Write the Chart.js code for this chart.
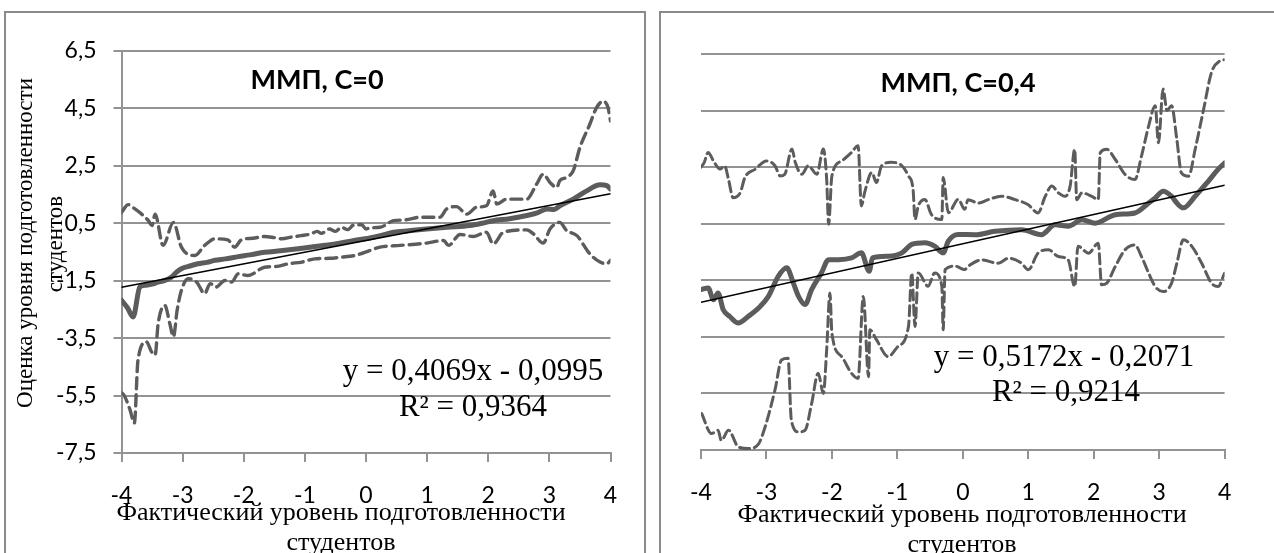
<!DOCTYPE html>
<html>
<head>
<meta charset="utf-8">
<script src="https://cdn.jsdelivr.net/npm/chart.js@4.4.1/dist/chart.umd.min.js"></script>
<style>
  html, body { margin: 0; padding: 0; background: #fff; overflow: hidden; }
  body { width: 1274px; height: 553px; position: relative; }
  .frame { position: absolute; border: 2px solid #8a8a8a; box-sizing: border-box; }
  #frameLeft { left: 4px; top: 11px; width: 642px; height: 600px; }
  #frameRight { left: 659px; top: 11px; width: 700px; height: 600px; }
  canvas { position: absolute; top: 0; }
  #leftChart { left: 0; }
  #rightChart { left: 652px; }
</style>
</head>
<body>
<div class="frame" id="frameLeft"></div>
<div class="frame" id="frameRight"></div>
<canvas id="leftChart" width="652" height="600"></canvas>
<canvas id="rightChart" width="622" height="600"></canvas>
<script>
// axis ticks
const xTicks = [-4, -3, -2, -1, 0, 1, 2, 3, 4];
const xTickLabels = ["-4", "-3", "-2", "-1", "0", "1", "2", "3", "4"];
const yTicks = [-7.5, -5.5, -3.5, -1.5, 0.5, 2.5, 4.5, 6.5];
const yTickLabels = ["-7,5", "-5,5", "-3,5", "-1,5", "0,5", "2,5", "4,5", "6,5"];

// left panel: ММП, C=0  ([x, y] pairs)
const leftMean = [[-4, -2.18], [-3.9, -2.45], [-3.81, -2.76], [-3.7, -1.72], [-3.6, -1.66], [-3.5, -1.62],
  [-3.4, -1.55], [-3.3, -1.5], [-3.18, -1.37], [-3.1, -1.2], [-3.02, -1.08], [-2.9, -1.0], [-2.75, -0.91],
  [-2.6, -0.86], [-2.47, -0.79], [-2.3, -0.74], [-2.09, -0.66], [-1.9, -0.6], [-1.66, -0.51],
  [-1.4, -0.46], [-1.11, -0.39], [-0.8, -0.3], [-0.56, -0.24], [-0.25, -0.12], [0.06, -0.01],
  [0.25, 0.08], [0.45, 0.19], [0.7, 0.24], [0.99, 0.30], [1.32, 0.36], [1.7, 0.42], [1.9, 0.5],
  [2.08, 0.59], [2.35, 0.66], [2.63, 0.77], [2.8, 0.86], [2.96, 1.0], [3.08, 0.98], [3.17, 1.11],
  [3.39, 1.34], [3.61, 1.63], [3.83, 1.84], [3.94, 1.81], [4, 1.69]];
const leftUpper = [[-4, 0.88], [-3.89, 1.15], [-3.78, 1.0], [-3.67, 0.82], [-3.56, 0.59], [-3.5, 0.42],
  [-3.45, 0.82], [-3.32, -0.27], [-3.15, 0.53], [-3.02, -0.33], [-2.8, -0.62], [-2.64, -0.27],
  [-2.47, -0.04], [-2.26, -0.08], [-2.15, -0.33], [-2.04, -0.08], [-1.85, -0.02], [-1.66, 0.04],
  [-1.5, 0.0], [-1.38, -0.04], [-1.2, 0.03], [-1.06, 0.07], [-0.9, 0.13], [-0.8, 0.22], [-0.73, 0.15],
  [-0.6, 0.3], [-0.5, 0.22], [-0.4, 0.36], [-0.3, 0.28], [-0.2, 0.44], [-0.07, 0.45], [0.0, 0.3],
  [0.06, 0.34], [0.23, 0.36], [0.45, 0.59], [0.65, 0.62], [0.88, 0.71], [1.21, 0.71], [1.32, 1.0],
  [1.48, 1.08], [1.65, 0.82], [1.81, 1.06], [1.97, 1.11], [2.08, 1.63], [2.14, 1.17], [2.3, 1.34],
  [2.63, 1.34], [2.79, 1.86], [2.9, 2.21], [3.01, 1.92], [3.12, 1.75], [3.17, 1.98], [3.28, 2.1],
  [3.39, 2.33], [3.5, 3.14], [3.66, 3.94], [3.77, 4.52], [3.88, 4.75], [3.96, 4.52], [4, 4.06]];
const leftLower = [[-4, -5.4], [-3.96, -5.48], [-3.86, -6.0], [-3.79, -6.46], [-3.73, -4.26], [-3.59, -3.63],
  [-3.51, -3.97], [-3.45, -4.09], [-3.4, -2.99], [-3.29, -2.36], [-3.21, -2.99], [-3.15, -3.45],
  [-3.09, -2.53], [-3.02, -1.84], [-2.91, -1.43], [-2.77, -1.55], [-2.64, -1.95], [-2.55, -1.6],
  [-2.45, -1.72], [-2.31, -1.49], [-2.2, -1.55], [-2.09, -1.26], [-1.93, -1.32], [-1.66, -1.03],
  [-1.45, -1.0], [-1.27, -0.91], [-1.05, -0.85], [-0.84, -0.74], [-0.6, -0.72], [-0.4, -0.68],
  [-0.18, -0.62], [0.06, -0.45], [0.23, -0.33], [0.56, -0.27], [0.99, -0.19], [1.27, -0.1],
  [1.35, -0.27], [1.54, 0.11], [1.76, 0.04], [1.97, 0.19], [2.08, -0.22], [2.25, 0.19], [2.63, 0.27],
  [2.74, 0.13], [2.9, -0.19], [3.01, 0.30], [3.17, 0.53], [3.28, 0.25], [3.45, 0.07], [3.66, -0.56],
  [3.83, -0.85], [3.94, -0.91], [4, -0.79]];
const leftTrend = [[-4, -1.727], [4, 1.528]];

// right panel: ММП, C=0,4
const rightMean = [[-4, -1.83], [-3.89, -1.77], [-3.81, -2.19], [-3.74, -1.95], [-3.66, -2.54], [-3.56, -2.78],
  [-3.43, -3.01], [-3.28, -2.78], [-3.12, -2.48], [-2.97, -2.07], [-2.82, -1.36], [-2.69, -1.06],
  [-2.59, -1.59], [-2.51, -2.07], [-2.41, -2.36], [-2.31, -1.83], [-2.16, -1.24], [-2.05, -0.77],
  [-1.9, -0.77], [-1.7, -0.71], [-1.55, -0.53], [-1.43, -1.18], [-1.38, -0.71], [-1.14, -0.65],
  [-0.93, -0.53], [-0.78, -0.23], [-0.58, -0.17], [-0.43, -0.29], [-0.3, -0.53], [-0.22, -0.11],
  [-0.07, 0.12], [0.19, 0.11], [0.49, 0.23], [0.9, 0.29], [1.2, 0.11], [1.41, 0.46], [1.61, 0.41],
  [1.82, 0.64], [2.02, 0.52], [2.33, 0.82], [2.63, 0.88], [2.84, 1.23], [2.94, 1.41], [3.06, 1.65],
  [3.19, 1.47], [3.27, 1.23], [3.37, 1.06], [3.55, 1.47], [3.75, 2.0], [3.9, 2.42], [4, 2.65]];
const rightUpper = [[-4, 2.5], [-3.95, 2.67], [-3.89, 3.02], [-3.81, 2.72], [-3.71, 2.43], [-3.64, 2.55],
  [-3.58, 2.07], [-3.51, 1.42], [-3.4, 1.6], [-3.33, 2.13], [-3.17, 2.43], [-3.0, 2.72], [-2.87, 2.55],
  [-2.79, 2.19], [-2.72, 2.25], [-2.61, 3.14], [-2.56, 2.67], [-2.46, 2.25], [-2.36, 2.55], [-2.23, 2.25],
  [-2.13, 3.14], [-2.08, 2.07], [-2.05, 0.48], [-2.0, 2.19], [-1.85, 2.72], [-1.7, 3.02], [-1.6, 3.26],
  [-1.55, 1.13], [-1.5, 1.6], [-1.39, 2.31], [-1.32, 1.96], [-1.24, 2.55], [-1.09, 2.67], [-0.93, 2.55],
  [-0.83, 2.19], [-0.76, 1.72], [-0.73, 0.65], [-0.68, 1.13], [-0.58, 1.36], [-0.48, 0.83], [-0.32, 0.65],
  [-0.3, 2.13], [-0.22, 0.89], [-0.07, 1.36], [0.03, 1.01], [0.08, 1.35], [0.24, 1.23], [0.39, 1.35],
  [0.59, 1.47], [0.8, 1.35], [1.0, 1.17], [1.15, 0.88], [1.26, 1.47], [1.36, 1.83], [1.46, 1.59],
  [1.56, 1.47], [1.64, 1.83], [1.71, 3.13], [1.74, 1.35], [1.82, 1.59], [1.97, 1.47], [2.07, 1.35],
  [2.1, 3.01], [2.2, 3.13], [2.33, 2.77], [2.48, 2.24], [2.63, 2.06], [2.73, 2.89], [2.84, 3.96],
  [2.94, 4.67], [2.99, 3.36], [3.06, 5.26], [3.12, 4.5], [3.19, 4.67], [3.27, 3.48], [3.34, 2.3],
  [3.45, 2.18], [3.55, 3.13], [3.68, 4.55], [3.8, 5.85], [3.93, 6.26], [4, 6.3]];
const rightLower = [[-3.99, -6.21], [-3.84, -6.92], [-3.74, -6.8], [-3.69, -7.16], [-3.58, -6.8], [-3.43, -7.39],
  [-3.28, -7.45], [-3.12, -7.28], [-3.02, -6.68], [-2.87, -5.38], [-2.77, -4.32], [-2.67, -4.26],
  [-2.62, -6.44], [-2.51, -6.86], [-2.41, -6.8], [-2.31, -5.86], [-2.21, -4.79], [-2.13, -5.5],
  [-2.08, -3.96], [-2.03, -1.95], [-2.0, -3.37], [-1.85, -4.2], [-1.7, -4.79], [-1.6, -4.97],
  [-1.52, -2.07], [-1.44, -4.91], [-1.42, -3.25], [-1.32, -3.6], [-1.14, -4.2], [-0.99, -3.84],
  [-0.83, -3.13], [-0.78, -1.24], [-0.73, -3.13], [-0.68, -1.24], [-0.53, -1.71], [-0.43, -1.24],
  [-0.32, -1.71], [-0.3, -3.25], [-0.27, -1.12], [-0.12, -1.0], [0.03, -1.12], [0.08, -1.01],
  [0.29, -0.78], [0.54, -0.9], [0.7, -0.72], [0.9, -0.9], [1.0, -1.13], [1.15, -0.54], [1.31, -0.42],
  [1.46, -0.66], [1.61, -0.78], [1.71, -1.72], [1.76, -0.3], [1.92, -0.54], [2.07, -0.19], [2.12, -1.66],
  [2.2, -1.6], [2.33, -1.01], [2.48, -0.42], [2.63, -0.25], [2.73, -0.66], [2.84, -1.25], [2.94, -1.72],
  [3.06, -1.9], [3.19, -1.6], [3.27, -0.9], [3.37, -0.07], [3.5, -0.3], [3.65, -0.9], [3.8, -1.6],
  [3.9, -1.72], [4.0, -1.25]];
const rightTrend = [[-4, -2.276], [4, 1.862]];

const gridColor = "#939393";
const lineGrey = "#5c5c5c";
const tickFont = { family: "Lato", size: 23 };
const serif = "Liberation Serif";

// draws titles, equations and axis titles where the original has them
const overlayText = {
    id: "overlayText",
    afterDraw(chart, args, opts) {
        const ctx = chart.ctx;
        (opts.items || []).forEach(it => {
            ctx.save();
            ctx.font = it.font;
            ctx.fillStyle = "#000";
            ctx.textAlign = "center";
            ctx.textBaseline = "middle";
            ctx.translate(it.x, it.y);
            if (it.rotate) ctx.rotate(-Math.PI / 2);
            ctx.fillText(it.text, 0, 0);
            ctx.restore();
        });
    }
};

function lineSet(points, style) {
    return Object.assign({
        data: points.map(p => ({ x: p[0], y: p[1] })),
        pointRadius: 0,
        fill: false,
        cubicInterpolationMode: "monotone",
        borderCapStyle: "round",
        borderJoinStyle: "round"
    }, style);
}

function makeChart(canvas, cfg) {
    return new Chart(canvas, {
        type: "line",
        data: {
            datasets: [
                lineSet(cfg.trend, { borderColor: "#000", borderWidth: 1.6, cubicInterpolationMode: "default" }),
                lineSet(cfg.mean, { borderColor: lineGrey, borderWidth: 5 }),
                lineSet(cfg.upper, { borderColor: lineGrey, borderWidth: cfg.dashWidth, borderDash: cfg.dash }),
                lineSet(cfg.lower, { borderColor: lineGrey, borderWidth: cfg.dashWidth, borderDash: cfg.dash })
            ]
        },
        options: {
            responsive: false,
            animation: false,
            layout: { padding: cfg.padding },
            plugins: {
                legend: { display: false },
                tooltip: { enabled: false },
                overlayText: { items: cfg.texts }
            },
            scales: {
                x: {
                    type: "linear",
                    min: -4,
                    max: 4,
                    afterBuildTicks: s => { s.ticks = xTicks.map(v => ({ value: v })); },
                    afterFit: s => { s.height = cfg.xHeight; },
                    grid: { drawOnChartArea: false, drawTicks: true, tickLength: 9, color: gridColor, lineWidth: 2 },
                    border: { display: true, color: gridColor, width: 2 },
                    ticks: {
                        font: tickFont, color: "#000", padding: 20, maxRotation: 0, autoSkip: false,
                        callback: (v, i) => xTickLabels[i]
                    }
                },
                y: {
                    type: "linear",
                    min: -7.5,
                    max: 6.5,
                    afterBuildTicks: s => { s.ticks = yTicks.map(v => ({ value: v })); },
                    afterFit: s => { s.width = cfg.yWidth; },
                    grid: { color: gridColor, lineWidth: 2, drawTicks: cfg.yLabels, tickLength: 8 },
                    border: { display: cfg.yLabels, color: gridColor, width: 2 },
                    ticks: {
                        display: cfg.yLabels, font: tickFont, color: "#000", padding: 17, autoSkip: false,
                        callback: (v, i) => yTickLabels[i]
                    }
                }
            }
        },
        plugins: [overlayText]
    });
}

makeChart(document.getElementById("leftChart"), {
    mean: leftMean, upper: leftUpper, lower: leftLower, trend: leftTrend,
    dash: [11, 6], dashWidth: 3.4,
    padding: { left: 0, top: 51, right: 41.5, bottom: 0 },
    yWidth: 121.5, xHeight: 147, yLabels: true,
    texts: [
        { text: "ММП, C=0", x: 317, y: 80, font: "bold 27px Lato" },
        { text: "y = 0,4069x - 0,0995", x: 473, y: 372, font: "31px " + serif },
        { text: "R² = 0,9364", x: 473, y: 408, font: "31px " + serif },
        { text: "Фактический уровень подготовленности", x: 341, y: 513, font: "26px " + serif },
        { text: "студентов", x: 341, y: 543, font: "26px " + serif },
        { text: "Оценка уровня подготовленности", x: 26, y: 243, font: "23px " + serif, rotate: true },
        { text: "студентов", x: 56, y: 244, font: "23px " + serif, rotate: true }
    ]
});

makeChart(document.getElementById("rightChart"), {
    mean: rightMean, upper: rightUpper, lower: rightLower, trend: rightTrend,
    dash: [10, 5], dashWidth: 3,
    padding: { left: 0, top: 54, right: 49.4, bottom: 0 },
    yWidth: 49, xHeight: 150, yLabels: false,
    texts: [
        { text: "ММП, C=0,4", x: 306, y: 83, font: "bold 27px Lato" },
        { text: "y = 0,5172x - 0,2071", x: 412, y: 358, font: "31px " + serif },
        { text: "R² = 0,9214", x: 414, y: 393, font: "31px " + serif },
        { text: "Фактический уровень подготовленности", x: 310, y: 515, font: "26px " + serif },
        { text: "студентов", x: 310, y: 545, font: "26px " + serif }
    ]
});
</script>
</body>
</html>
